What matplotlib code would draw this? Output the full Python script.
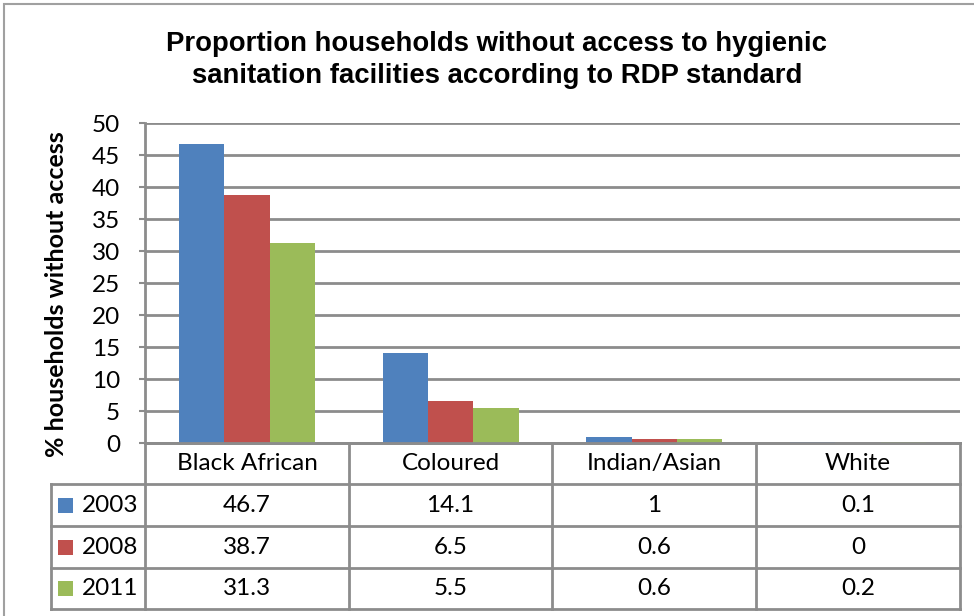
import matplotlib
matplotlib.use("Agg")
import matplotlib.pyplot as plt
from matplotlib.patches import Rectangle
from matplotlib.lines import Line2D
import numpy as np

categories = ["Black African", "Coloured", "Indian/Asian", "White"]
years = ["2003", "2008", "2011"]
values_2003 = [46.7, 14.1, 1, 0.1]
values_2008 = [38.7, 6.5, 0.6, 0]
values_2011 = [31.3, 5.5, 0.6, 0.2]
series = [values_2003, values_2008, values_2011]
colors = ["#4F81BD", "#C0504D", "#9BBB59"]
yticks = [0, 5, 10, 15, 20, 25, 30, 35, 40, 45, 50]

W, H = 974, 616
fig = plt.figure(figsize=(W / 100, H / 100), dpi=100)
body_font = ["Lato", "DejaVu Sans"]
fs = 17.5
grid_col = "#8C8C8C"

# outer chart-area border (top and left edges visible)
fig.patches.append(Rectangle((4 / W, -0.1), 1.2, (H - 4) / H + 0.1,
                             transform=fig.transFigure, fill=False,
                             edgecolor="#A0A0A0", linewidth=1.5))

ax_l, ax_t, ax_r, ax_b = 145, 123, 960, 443
ax = fig.add_axes([ax_l / W, 1 - ax_b / H, (ax_r - ax_l) / W, (ax_b - ax_t) / H])

n = len(categories)
x = np.arange(n)
bw = 1 / (3 + 1.5)
for i, (vals, c) in enumerate(zip(series, colors)):
    ax.bar(x + (i - 1) * bw, vals, width=bw, color=c, zorder=3,
           edgecolor="none")

ax.set_xlim(-0.5, n - 0.5)
ax.set_ylim(0, 50)
ax.set_yticks(yticks)
ax.set_yticklabels([str(t) for t in yticks], fontfamily=body_font, fontsize=fs)
ax.set_xticks([])
ax.tick_params(axis="y", length=4, width=1.5, color=grid_col, pad=14)
ax.yaxis.grid(True, color=grid_col, linewidth=2, zorder=0)
for s in ["top", "right"]:
    ax.spines[s].set_visible(False)
for s in ["left", "bottom"]:
    ax.spines[s].set_color(grid_col)
    ax.spines[s].set_linewidth(2)

ax.set_ylabel("% households without access", fontfamily=body_font,
              fontweight="bold", fontsize=18)
ax.yaxis.set_label_coords((68 - ax_l) / (ax_r - ax_l), (ax_b - 294) / (ax_b - ax_t))

fig.text(497 / W, 1 - 60 / H,
         "Proportion households without access to hygienic\nsanitation facilities according to RDP standard",
         ha="center", va="center", fontfamily=["Liberation Sans", "DejaVu Sans"],
         fontweight="bold", fontsize=19.8, linespacing=1.3)

# data table below the axis
row_edges = [443, 484, 526, 568, 609]
col_edges = [145, 349, 552, 756, 960]
tab_left = 51

def hline(x0, x1, y):
    fig.add_artist(Line2D([x0 / W, x1 / W], [1 - y / H, 1 - y / H],
                          transform=fig.transFigure, color=grid_col, linewidth=2))

def vline(x0, y0, y1):
    fig.add_artist(Line2D([x0 / W, x0 / W], [1 - y0 / H, 1 - y1 / H],
                          transform=fig.transFigure, color=grid_col, linewidth=2))

hline(col_edges[0], col_edges[-1], row_edges[0])
hline(tab_left, col_edges[-1], row_edges[1])
for y in row_edges[2:]:
    hline(tab_left, col_edges[-1], y)
for xe in col_edges:
    vline(xe, row_edges[0], row_edges[-1])
vline(tab_left, row_edges[1], row_edges[-1])

for j, cat in enumerate(categories):
    cx = (col_edges[j] + col_edges[j + 1]) / 2
    cy = (row_edges[0] + row_edges[1]) / 2
    fig.text(cx / W, 1 - cy / H, cat, ha="center", va="center",
             fontfamily=body_font, fontsize=fs)

for i, (yr, vals, c) in enumerate(zip(years, series, colors)):
    cy = (row_edges[i + 1] + row_edges[i + 2]) / 2
    fig.patches.append(Rectangle((58 / W, 1 - (cy + 7.5) / H), 15 / W, 15 / H,
                                 transform=fig.transFigure, facecolor=c,
                                 edgecolor="none"))
    fig.text(82 / W, 1 - cy / H, yr, ha="left", va="center",
             fontfamily=body_font, fontsize=fs)
    for j, v in enumerate(vals):
        cx = (col_edges[j] + col_edges[j + 1]) / 2
        fig.text(cx / W, 1 - cy / H, f"{v:g}", ha="center", va="center",
                 fontfamily=body_font, fontsize=fs)

fig.savefig("out.png", dpi=100)
